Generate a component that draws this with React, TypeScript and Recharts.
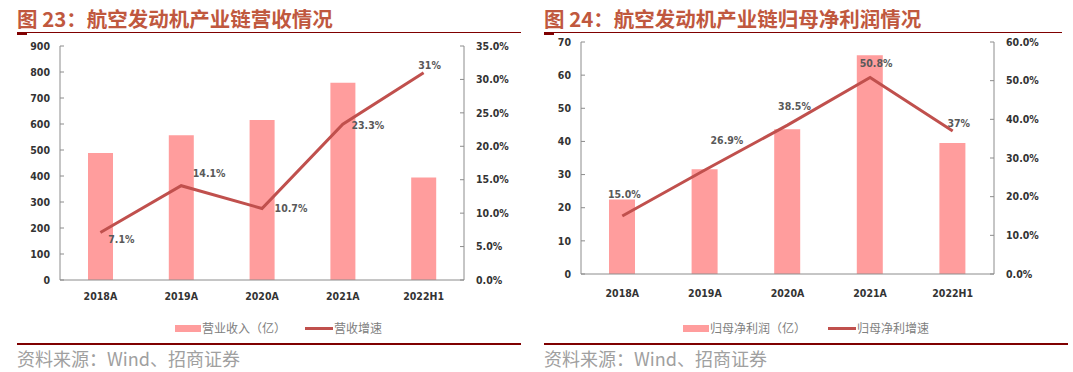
import React from 'react';
import { ComposedChart, Bar, Line, XAxis, YAxis } from 'recharts';

const years = ['2018A', '2019A', '2020A', '2021A', '2022H1'];

// 图23 营收
const revenue = [488, 557, 615, 759, 394];
const revenueGrowth = [7.1, 14.1, 10.7, 23.3, 31];
const revenueGrowthLabels = ['7.1%', '14.1%', '10.7%', '23.3%', '31%'];
const revenueTicks = [0, 100, 200, 300, 400, 500, 600, 700, 800, 900];
const revenueGrowthTicks = [0, 5, 10, 15, 20, 25, 30, 35];

// 图24 归母净利润
const profit = [22.5, 31.6, 43.7, 66, 39.5];
const profitGrowth = [15.0, 26.9, 38.5, 50.8, 37];
const profitGrowthLabels = ['15.0%', '26.9%', '38.5%', '50.8%', '37%'];
const profitTicks = [0, 10, 20, 30, 40, 50, 60, 70];
const profitGrowthTicks = [0, 10, 20, 30, 40, 50, 60];

// label offsets (px from point)
const revLabelOffset = [[21, 6], [28, -13], [29, 0], [25, 1], [6, -8]];
const profLabelOffset = [[2, -22], [22, -30], [7, -19], [6, -15], [6, -8]];

const BAR = '#FF9D9D';
const LINE = '#C0504D';
const AXIS = '#8C8C8C';
const DARKRED = '#7F0000';
const narrow = '"Liberation Sans Narrow", "DejaVu Sans Condensed", sans-serif';
const tickFont = { fontSize: 10.5, fontWeight: 700, fill: '#333333', fontFamily: narrow };
const cjk = '"Noto Sans CJK SC", sans-serif';

const makeLabel = (labels: string[], offs: number[][]) => (props: any) => {
  const { x, y, index } = props;
  const [dx, dy] = offs[index];
  return (
    <text x={x + dx} y={y + dy} textAnchor="middle" dominantBaseline="central"
      style={{ fontSize: 10.5, fontWeight: 700, fill: '#595959', fontFamily: narrow }}>
      {labels[index]}
    </text>
  );
};

const Header = ({ left, width, text, thickAt }: any) => (
  <>
    <div style={{ position: 'absolute', left, top: 5, fontFamily: cjk, fontWeight: 700, fontSize: 20.5, color: '#C0583E', whiteSpace: 'nowrap', lineHeight: '27px' }}>
      {text}
    </div>
    <div style={{ position: 'absolute', left, top: 32, width, height: 1, background: DARKRED }} />
    <div style={{ position: 'absolute', left: thickAt, top: 32, width: 10, height: 3, background: DARKRED }} />
  </>
);

const Footer = ({ left, width }: any) => (
  <>
    <div style={{ position: 'absolute', left, top: 343, width, height: 2, background: DARKRED }} />
    <div style={{ position: 'absolute', left, top: 346, fontFamily: cjk, fontSize: 18, color: '#A0A0A0', whiteSpace: 'nowrap', lineHeight: '24px' }}>
      资料来源：Wind、招商证券
    </div>
  </>
);

const LegendRow = ({ left, barText, lineText, lineLeft }: any) => (
  <>
    <div style={{ position: 'absolute', left, top: 325, width: 26, height: 7, background: BAR }} />
    <div style={{ position: 'absolute', left: left + 27, top: 320, fontFamily: cjk, fontSize: 12, color: '#808080', lineHeight: '16px', whiteSpace: 'nowrap' }}>{barText}</div>
    <div style={{ position: 'absolute', left: lineLeft, top: 327, width: 28, height: 3, background: LINE }} />
    <div style={{ position: 'absolute', left: lineLeft + 29, top: 320, fontFamily: cjk, fontSize: 12, color: '#808080', lineHeight: '16px', whiteSpace: 'nowrap' }}>{lineText}</div>
  </>
);

const App = () => {
  const data1 = years.map((y, i) => ({ year: y, revenue: revenue[i], growth: revenueGrowth[i] }));
  const data2 = years.map((y, i) => ({ year: y, profit: profit[i], growth: profitGrowth[i] }));

  return (
    <div style={{ position: 'absolute', left: 0, top: 0, width: 1073, height: 372, background: '#ffffff', overflow: 'hidden' }}>
      <Header left={17} width={504} thickAt={17} text="图 23：航空发动机产业链营收情况" />
      <Header left={544} width={518} thickAt={544} text="图 24：航空发动机产业链归母净利润情况" />

      <div style={{ position: 'absolute', left: 0, top: 0 }}>
        <ComposedChart width={530} height={310} data={data1} margin={{ top: 46, right: 16, left: 10, bottom: 0 }}>
          <XAxis dataKey="year" axisLine={{ stroke: AXIS }} tickLine={false} tickSize={0} tickMargin={13} height={30} tick={tickFont} />
          <YAxis yAxisId="l" domain={[0, 900]} ticks={revenueTicks} width={50} axisLine={{ stroke: AXIS }}
            tickLine={{ stroke: AXIS }} tickSize={-4} tickMargin={14} tick={tickFont} interval={0} />
          <YAxis yAxisId="r" orientation="right" domain={[0, 35]} ticks={revenueGrowthTicks} width={50}
            axisLine={{ stroke: AXIS }} tickLine={{ stroke: AXIS }} tickSize={-4} tickMargin={16} tick={tickFont}
            interval={0} tickFormatter={(v: number) => `${v.toFixed(1)}%`} />
          <Bar yAxisId="l" dataKey="revenue" fill={BAR} barSize={25} isAnimationActive={false} />
          <Line yAxisId="r" dataKey="growth" stroke={LINE} strokeWidth={3} dot={false} type="linear"
            isAnimationActive={false} label={makeLabel(revenueGrowthLabels, revLabelOffset)} />
        </ComposedChart>
      </div>

      <div style={{ position: 'absolute', left: 531, top: 0 }}>
        <ComposedChart width={530} height={304} data={data2} margin={{ top: 42, right: 17, left: 0, bottom: 0 }}>
          <XAxis dataKey="year" axisLine={{ stroke: AXIS }} tickLine={false} tickSize={0} tickMargin={16} height={30} tick={tickFont} />
          <YAxis yAxisId="l" domain={[0, 70]} ticks={profitTicks} width={50} axisLine={{ stroke: AXIS }}
            tickLine={{ stroke: AXIS }} tickSize={-4} tickMargin={14} tick={tickFont} interval={0} />
          <YAxis yAxisId="r" orientation="right" domain={[0, 60]} ticks={profitGrowthTicks} width={50}
            axisLine={{ stroke: AXIS }} tickLine={{ stroke: AXIS }} tickSize={-4} tickMargin={16} tick={tickFont}
            interval={0} tickFormatter={(v: number) => `${v.toFixed(1)}%`} />
          <Bar yAxisId="l" dataKey="profit" fill={BAR} barSize={26} isAnimationActive={false} />
          <Line yAxisId="r" dataKey="growth" stroke={LINE} strokeWidth={3} dot={false} type="linear"
            isAnimationActive={false} label={makeLabel(profitGrowthLabels, profLabelOffset)} />
        </ComposedChart>
      </div>

      <LegendRow left={175} lineLeft={305} barText="营业收入（亿）" lineText="营收增速" />
      <LegendRow left={683} lineLeft={828} barText="归母净利润（亿）" lineText="归母净利增速" />

      <Footer left={17} width={504} />
      <Footer left={544} width={524} />
    </div>
  );
};

export default App;
